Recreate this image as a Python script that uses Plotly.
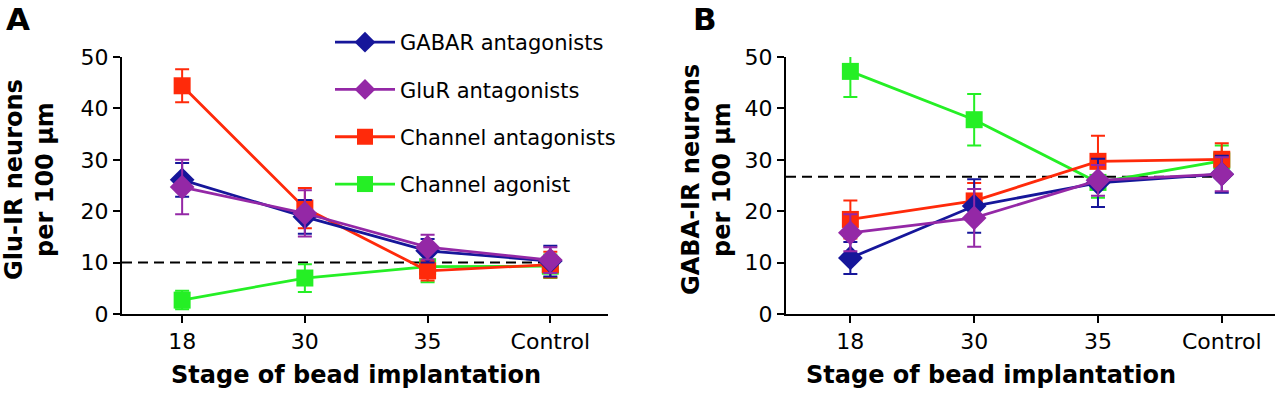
import plotly.graph_objects as go

# ---------------- data ----------------
categories = ["18", "30", "35", "Control"]
series_names = ["GABAR antagonists", "GluR antagonists", "Channel antagonists", "Channel agonist"]

# Panel A: Glu-IR neurons per 100 um
glu_gabar = [26.1, 18.9, 12.3, 10.3]
glu_gabar_err = [3.3, 3.3, 2.3, 3.0]
glu_glur = [24.7, 19.6, 13.0, 10.5]
glu_glur_err = [5.3, 4.5, 2.4, 2.5]
glu_chan_antag = [44.4, 20.6, 8.4, 9.6]
glu_chan_antag_err = [3.2, 3.9, 1.9, 2.5]
glu_chan_agon = [2.7, 7.0, 9.2, 9.3]
glu_chan_agon_err = [1.8, 2.7, 3.0, 2.3]
glu_control_level = 10.0

# Panel B: GABA-IR neurons per 100 um
gaba_gabar = [10.9, 21.0, 25.5, 27.2]
gaba_gabar_err = [3.1, 5.2, 4.7, 3.6]
gaba_glur = [15.8, 18.7, 26.0, 27.2]
gaba_glur_err = [3.6, 5.6, 3.0, 3.3]
gaba_chan_antag = [18.4, 22.0, 29.7, 30.1]
gaba_chan_antag_err = [3.7, 3.5, 5.0, 3.1]
gaba_chan_agon = [47.2, 37.8, 25.6, 29.8]
gaba_chan_agon_err = [5.0, 5.0, 3.0, 3.0]
gaba_control_level = 26.7

y_ticks = [0, 10, 20, 30, 40, 50]

colors = ["#16169a", "#9428a6", "#ff2a0a", "#25ef25"]
symbols = ["diamond", "diamond", "square", "square"]
sizes = [19, 19, 17, 17]

FONT = "DejaVu Sans, Liberation Sans, Arial, sans-serif"
xpos = list(range(len(categories)))

fig = go.Figure()

panelA = [glu_gabar, glu_glur, glu_chan_antag, glu_chan_agon]
panelA_err = [glu_gabar_err, glu_glur_err, glu_chan_antag_err, glu_chan_agon_err]
panelB = [gaba_gabar, gaba_glur, gaba_chan_antag, gaba_chan_agon]
panelB_err = [gaba_gabar_err, gaba_glur_err, gaba_chan_antag_err, gaba_chan_agon_err]

draw_order = [3, 2, 0, 1]  # green, red, blue, purple (purple on top)
for panel, (vals, errs, xa, ya) in enumerate([(panelA, panelA_err, "x", "y"), (panelB, panelB_err, "x2", "y2")]):
    for i in draw_order:
        fig.add_trace(go.Scatter(
            x=xpos, y=vals[i], xaxis=xa, yaxis=ya,
            mode="lines+markers",
            name=series_names[i],
            legendgroup=series_names[i],
            legendrank=i + 1,
            showlegend=(panel == 0),
            line=dict(color=colors[i], width=2.8),
            marker=dict(symbol=symbols[i], size=sizes[i], color=colors[i], line=dict(width=0)),
            error_y=dict(type="data", array=errs[i], color=colors[i], thickness=2, width=7),
            cliponaxis=False,
        ))

# dashed control reference lines
fig.add_shape(type="line", xref="x", yref="y", x0=-0.49, x1=3.05, y0=glu_control_level, y1=glu_control_level,
              line=dict(color="black", width=2, dash="10px,6px"), layer="below")
fig.add_shape(type="line", xref="x2", yref="y2", x0=-0.52, x1=3.05, y0=gaba_control_level, y1=gaba_control_level,
              line=dict(color="black", width=2, dash="10px,6px"), layer="below")

ydom = [80 / 394, 337 / 394]
axis_common = dict(showline=True, linecolor="black", linewidth=2, ticks="outside", tickwidth=2,
                   ticklen=7, tickcolor="black", showgrid=False, zeroline=False, automargin=False,
                   tickfont=dict(family=FONT, size=22, color="black"))

fig.update_layout(
    width=1280, height=394,
    margin=dict(l=0, r=0, t=0, b=0, autoexpand=False),
    paper_bgcolor="white", plot_bgcolor="white",
    font=dict(family=FONT, color="black"),
    xaxis=dict(domain=[122 / 1280, 608 / 1280], range=[-0.49, 3.47], tickvals=xpos, ticktext=categories, **axis_common),
    yaxis=dict(domain=ydom, range=[0, 50], tickvals=y_ticks, **axis_common),
    xaxis2=dict(domain=[786 / 1280, 1275 / 1280], range=[-0.52, 3.43], tickvals=xpos, ticktext=categories, **axis_common),
    yaxis2=dict(domain=ydom, range=[0, 50], tickvals=y_ticks, anchor="x2", **axis_common),
    legend=dict(x=330 / 1280, y=1 - 22 / 394, xanchor="left", yanchor="top",
                font=dict(family=FONT, size=21, color="black"),
                tracegroupgap=17, bgcolor="rgba(0,0,0,0)", itemwidth=60),
    showlegend=True,
)
fig.update_layout(xaxis2=dict(anchor="y2"))

ann = []
title_font = dict(family=FONT, size=24, color="black")
ann.append(dict(text="<b>Stage of bead implantation</b>", x=356 / 1280, y=1 - 375 / 394, xref="paper", yref="paper",
                showarrow=False, font=title_font, xanchor="center", yanchor="middle"))
ann.append(dict(text="<b>Stage of bead implantation</b>", x=991 / 1280, y=1 - 375 / 394, xref="paper", yref="paper",
                showarrow=False, font=title_font, xanchor="center", yanchor="middle"))
ann.append(dict(text="<b>Glu-IR neurons<br>per 100 µm</b>", x=29 / 1280, y=1 - 180 / 394, xref="paper", yref="paper",
                showarrow=False, font=title_font, textangle=-90, xanchor="center", yanchor="middle"))
ann.append(dict(text="<b>GABA-IR neurons<br>per 100 µm</b>", x=706 / 1280, y=1 - 180 / 394, xref="paper", yref="paper",
                showarrow=False, font=title_font, textangle=-90, xanchor="center", yanchor="middle"))
ann.append(dict(text="<b>A</b>", x=18 / 1280, y=1 - 19 / 394, xref="paper", yref="paper",
                showarrow=False, font=dict(family=FONT, size=31, color="black"), xanchor="center", yanchor="middle"))
ann.append(dict(text="<b>B</b>", x=705 / 1280, y=1 - 19 / 394, xref="paper", yref="paper",
                showarrow=False, font=dict(family=FONT, size=31, color="black"), xanchor="center", yanchor="middle"))
fig.update_layout(annotations=ann)

post = "document.body.style.margin='0';document.body.style.padding='0';document.body.style.overflow='hidden';"
fig.write_html("out.html", post_script=post, config={"responsive": False, "displayModeBar": False})
